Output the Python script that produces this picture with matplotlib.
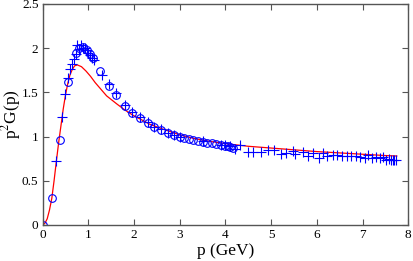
import matplotlib
matplotlib.use("Agg")
import matplotlib.pyplot as plt

plt.rcParams['font.family'] = ['Liberation Serif', 'DejaVu Serif']
plt.rcParams['mathtext.fontset'] = 'stix'

circ_p = [0.0, 0.2, 0.38, 0.56, 0.72, 0.80, 0.88, 0.96, 1.04, 1.10, 1.25, 1.46, 1.61, 1.80,
          1.96, 2.12, 2.30, 2.44, 2.58, 2.74, 2.87, 3.0, 3.1, 3.2, 3.3, 3.4, 3.5, 3.6, 3.7,
          3.8, 3.9, 4.0, 4.05, 4.1, 4.16]
circ_g = [0.0, 0.30, 0.96, 1.62, 1.95, 2.00, 2.01, 1.98, 1.93, 1.89, 1.74, 1.575, 1.465, 1.345,
          1.27, 1.215, 1.15, 1.11, 1.07, 1.04, 1.015, 0.995, 0.98, 0.97, 0.96, 0.95, 0.94, 0.93,
          0.925, 0.915, 0.905, 0.895, 0.89, 0.88, 0.87]

plus_p = [0.29, 0.42, 0.49, 0.56, 0.60, 0.64, 0.68, 0.72, 0.76, 0.80, 0.84, 0.88, 0.92, 0.96,
          1.0, 1.04, 1.08, 1.12, 1.29, 1.46, 1.61, 1.80, 1.96, 2.12, 2.30, 2.44, 2.58, 2.74,
          2.87, 3.0, 3.5, 3.9, 4.0, 4.1, 4.2, 4.31, 4.49, 4.61, 4.78, 4.93, 5.06, 5.22, 5.33,
          5.47, 5.53, 5.69, 5.80, 5.91, 6.04, 6.13, 6.22, 6.35, 6.45, 6.56, 6.65, 6.75, 6.85,
          6.95, 7.05, 7.12, 7.2, 7.3, 7.38, 7.45, 7.52, 7.58, 7.62, 7.66, 7.7, 7.74]
plus_g = [0.72, 1.22, 1.48, 1.66, 1.76, 1.82, 1.88, 1.93, 2.03, 1.99, 2.03, 2.0, 2.0, 1.98,
          1.95, 1.92, 1.89, 1.87, 1.70, 1.59, 1.49, 1.36, 1.28, 1.22, 1.16, 1.11, 1.08, 1.04,
          1.02, 1.0, 0.95, 0.91, 0.90, 0.89, 0.86, 0.91, 0.83, 0.83, 0.83, 0.85, 0.85, 0.80, 0.81,
          0.835, 0.80, 0.83, 0.78, 0.81, 0.76, 0.815, 0.78, 0.79, 0.79, 0.78, 0.78, 0.78, 0.775,
          0.77, 0.76, 0.79, 0.76, 0.765, 0.755, 0.765, 0.74, 0.745, 0.73, 0.74, 0.735, 0.74]

fit_p = [0.0, 0.05, 0.1, 0.15, 0.2, 0.25, 0.3, 0.35, 0.4, 0.45, 0.5, 0.55, 0.6, 0.65, 0.7,
         0.76, 0.85, 0.95, 1.05, 1.15, 1.25, 1.4, 1.62, 1.8, 1.98, 2.2, 2.34, 2.6, 3.0, 3.3,
         3.6, 4.0, 4.5, 5.0, 5.5, 6.0, 6.5, 7.0, 7.5, 7.75]
fit_g = [0.0, 0.02, 0.07, 0.17, 0.30, 0.50, 0.72, 0.93, 1.12, 1.31, 1.47, 1.60, 1.70, 1.76, 1.80,
         1.81, 1.79, 1.74, 1.68, 1.61, 1.55, 1.46, 1.37, 1.30, 1.24, 1.18, 1.14, 1.09, 1.02, 0.98,
         0.95, 0.92, 0.89, 0.87, 0.85, 0.83, 0.815, 0.80, 0.785, 0.78]

fig = plt.figure(figsize=(4.14, 2.61), dpi=100)
ax = fig.add_axes([0.103, 0.138, 0.883, 0.847])

ax.plot(fit_p, fit_g, color='red', lw=0.9, zorder=1)
ax.plot(circ_p, circ_g, linestyle='none', marker='o', mfc='none', mec='blue',
        ms=5.5, mew=0.8, zorder=2)
ax.plot(plus_p, plus_g, linestyle='none', marker='+', color='blue',
        ms=7, mew=0.8, zorder=3)

ax.set_xlim(0, 8)
ax.set_ylim(0, 2.5)
ax.set_xticks(range(0, 9))
ax.set_yticks([0, 0.5, 1, 1.5, 2, 2.5])
ax.set_yticklabels(['0', '0.5', '1', '1.5', '2', '2.5'])
ax.tick_params(direction='in', top=True, right=True, length=4, width=0.8,
               color='#555555', labelsize=9.5, pad=3)
for s in ax.spines.values():
    s.set_color('#555555')
    s.set_linewidth(1.0)

ax.set_xlabel('p (GeV)', fontsize=12.5, labelpad=1)
ax.set_ylabel('p$^2$G(p)', fontsize=12.5)
ax.yaxis.set_label_coords(-0.055, 0.5)

fig.savefig('out.png', dpi=100)
